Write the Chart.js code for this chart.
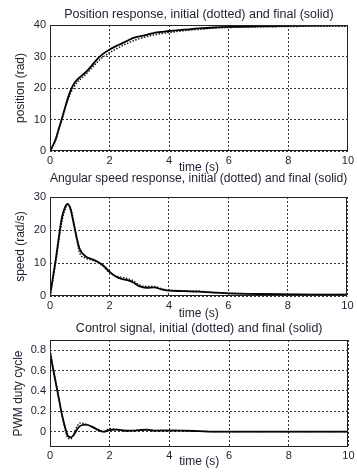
<!DOCTYPE html>
<html>
<head>
<meta charset="utf-8">
<script src="https://cdn.jsdelivr.net/npm/chart.js@4"></script>
<style>
  body { margin: 0; background: #fff; }
  #wrap { position: relative; width: 357px; height: 475px; overflow: hidden; }
  canvas { position: absolute; left: 0; }
</style>
</head>
<body>
<div id="wrap">
  <canvas id="posChart" width="357" height="176" style="top:0px"></canvas>
  <canvas id="speedChart" width="357" height="161" style="top:160px"></canvas>
  <canvas id="ctrlChart" width="357" height="165" style="top:310px"></canvas>
</div>
<script>
// ===== Data =====
const timeS = [0, 0.1, 0.2, 0.3, 0.4, 0.5, 0.6, 0.7, 0.8, 0.9, 1.0, 1.2, 1.4, 1.6, 1.8, 2.0,
  2.2, 2.4, 2.6, 2.8, 3.0, 3.25, 3.5, 3.75, 4, 4.5, 5, 5.5, 6, 7, 8, 9, 10];

const posFinal = [0, 1.8, 4.0, 7.2, 10.3, 13.6, 16.8, 19.4, 21.3, 22.5, 23.4, 25.0, 27.1, 29.3, 31.0, 32.2,
  33.2, 34.1, 35.0, 35.9, 36.4, 36.9, 37.5, 37.8, 38.1, 38.5, 38.9, 39.2, 39.4, 39.6, 39.7, 39.8, 39.9];
const posInitial = [0, 1.5, 3.7, 6.8, 9.9, 13.1, 16.1, 18.5, 20.3, 21.6, 22.6, 24.3, 26.3, 28.3, 30.0, 31.2,
  32.3, 33.3, 34.2, 35.0, 35.7, 36.3, 36.9, 37.3, 37.6, 38.2, 38.6, 39.0, 39.2, 39.4, 39.5, 39.6, 39.6];

const speedFinal = [0, 5.8, 11.5, 18.0, 23.8, 26.8, 27.9, 26.0, 21.8, 17.6, 14.2, 12.0, 11.2, 10.4, 9.2, 7.4,
  6.0, 5.2, 4.8, 4.1, 3.0, 2.5, 2.6, 2.0, 1.6, 1.5, 1.3, 1.0, 0.8, 0.6, 0.5, 0.4, 0.4];
const speedInitial = [0, 5.0, 10.5, 16.8, 22.5, 26.0, 27.6, 26.6, 22.5, 17.0, 13.0, 11.5, 10.9, 10.2, 8.9, 7.0,
  6.1, 5.7, 5.3, 4.6, 3.4, 2.9, 2.9, 2.2, 1.8, 1.6, 1.5, 1.1, 0.9, 0.6, 0.5, 0.5, 0.5];

const ctrlFinal = [0.78, 0.62, 0.47, 0.32, 0.17, 0.05, -0.04, -0.055, -0.03, 0.02, 0.055, 0.07, 0.05, 0.02, 0.0, 0.015,
  0.02, 0.015, 0.01, 0.01, 0.015, 0.02, 0.01, 0.01, 0.01, 0.01, 0.005, 0, 0, 0, 0, 0, 0];
const ctrlInitial = [0.8, 0.64, 0.48, 0.32, 0.16, 0.03, -0.065, -0.07, -0.02, 0.05, 0.085, 0.075, 0.045, 0.015, 0.0, 0.03,
  0.025, 0.01, 0.005, 0.01, 0.02, 0.015, 0.01, 0.015, 0.015, 0.01, 0.005, 0, 0, 0, 0, 0, 0];

const timeTicks = [0, 2, 4, 6, 8, 10];
const posTicks = [0, 10, 20, 30, 40];
const speedTicks = [0, 10, 20, 30];
const ctrlTicks = [0, 0.2, 0.4, 0.6, 0.8];

// ===== Shared styling =====
const FONT = "'Liberation Sans', Arial, sans-serif";
const TEXT = '#1e1e2e';

// closed frame round the plot area
const boxPlugin = {
  id: 'box',
  afterDatasetsDraw(chart) {
    const a = chart.chartArea;
    const ctx = chart.ctx;
    ctx.save();
    ctx.strokeStyle = '#222';
    ctx.lineWidth = 1;
    ctx.strokeRect(Math.round(a.left) + 0.5, Math.round(a.top) + 0.5,
      Math.round(a.width) - 1, Math.round(a.height) - 1);
    ctx.restore();
  }
};

function pts(ys) {
  return timeS.map((t, i) => ({ x: t, y: ys[i] }));
}

function gridOpts() {
  return { color: 'rgba(0,0,0,0.8)', lineWidth: 1, drawTicks: false };
}

function makeChart(id, o) {
  return new Chart(document.getElementById(id), {
    type: 'line',
    data: {
      datasets: [
        { data: pts(o.initial), borderColor: '#111', borderWidth: 1.4, borderDash: [1.5, 1.5],
          pointRadius: 0, cubicInterpolationMode: 'monotone' },
        { data: pts(o.final), borderColor: '#000', borderWidth: 1.8,
          pointRadius: 0, cubicInterpolationMode: 'monotone' }
      ]
    },
    options: {
      responsive: false,
      animation: false,
      events: [],
      layout: { padding: { left: 0, right: 8, top: 0, bottom: o.padBottom } },
      plugins: {
        legend: { display: false },
        tooltip: { enabled: false },
        title: {
          display: true, text: o.title, color: TEXT, fullSize: false,
          font: { family: FONT, size: 12.5, weight: 'normal', lineHeight: 1.2 },
          padding: { top: o.titleTop, bottom: o.titleBottom }
        }
      },
      scales: {
        x: {
          type: 'linear', min: 0, max: 10,
          afterBuildTicks: s => { s.ticks = timeTicks.map(v => ({ value: v })); },
          afterFit: s => { s.height = o.xHeight; },
          grid: gridOpts(),
          border: { display: false, dash: [2, 2] },
          ticks: { color: TEXT, font: { family: FONT, size: 11 }, padding: o.xTickPad, maxRotation: 0 },
          title: { display: true, text: 'time (s)', color: TEXT,
            font: { family: FONT, size: 12, lineHeight: 1.2 }, padding: { top: 0, bottom: 0 } }
        },
        y: {
          min: o.yMin, max: o.yMax,
          afterBuildTicks: s => { s.ticks = o.yTicks.map(v => ({ value: v })); },
          afterFit: s => { s.width = 50; },
          grid: gridOpts(),
          border: { display: false, dash: [2, 2] },
          ticks: { color: TEXT, font: { family: FONT, size: 11 }, padding: 4,
            callback: v => String(Math.round(v * 10) / 10) },
          title: { display: true, text: o.yLabel, color: TEXT,
            font: { family: FONT, size: 12, lineHeight: 1.2 }, padding: { top: o.yTitleOff, bottom: 0 } }
        }
      }
    },
    plugins: [boxPlugin]
  });
}

// ===== Charts =====
makeChart('posChart', {
  title: 'Position response, initial (dotted) and final (solid)',
  initial: posInitial, final: posFinal,
  yMin: 0, yMax: 40, yTicks: posTicks, yLabel: 'position (rad)',
  titleTop: 7.5, titleBottom: 2.5, xHeight: 24, padBottom: 1, xTickPad: 3, yTitleOff: 13.3
});

makeChart('speedChart', {
  title: 'Angular speed response, initial (dotted) and final (solid)',
  initial: speedInitial, final: speedFinal,
  yMin: 0, yMax: 30, yTicks: speedTicks, yLabel: 'speed (rad/s)',
  titleTop: 11.2, titleBottom: 10.8, xHeight: 25, padBottom: 0, xTickPad: 3.5, yTitleOff: 13.5
});

makeChart('ctrlChart', {
  title: 'Control signal, initial (dotted) and final (solid)',
  initial: ctrlInitial, final: ctrlFinal,
  yMin: -0.15, yMax: 0.9, yTicks: ctrlTicks, yLabel: 'PWM duty cycle',
  titleTop: 11.5, titleBottom: 3.5, xHeight: 22.2, padBottom: 5.8, xTickPad: 2.5, yTitleOff: 11.5
});
</script>
</body>
</html>
